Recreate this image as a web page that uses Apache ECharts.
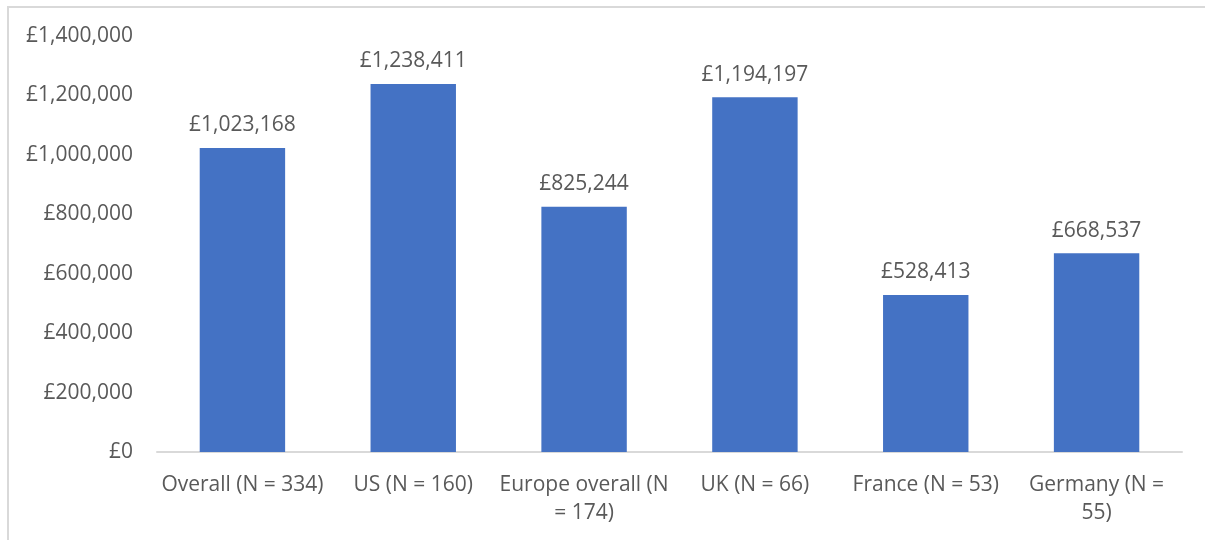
<!DOCTYPE html>
<html>
<head>
<meta charset="utf-8">
<script src="https://cdn.jsdelivr.net/npm/echarts@6/dist/echarts.min.js"></script>
<style>
  html, body { margin: 0; padding: 0; background: #fff; }
  #frame {
    position: absolute; left: 7px; top: 6px; width: 1198px; height: 534px;
    border-top: 2px solid #d9d9d9; border-left: 2px solid #d9d9d9;
    box-sizing: border-box;
  }
  #chart { position: absolute; left: 0; top: 0; width: 1205px; height: 540px; }
</style>
</head>
<body>
<div id="frame"></div>
<div id="chart"></div>
<script>
// 分类（轴上显示的文字）
const categories = [
  "Overall (N = 334)",
  "US (N = 160)",
  "Europe overall (N\n= 174)",
  "UK (N = 66)",
  "France (N = 53)",
  "Germany (N =\n55)"
];
// 平均值
const values = [1023168, 1238411, 825244, 1194197, 528413, 668537];

const yMin = 0;
const yMax = 1400000;
const yStep = 200000;

const textColor = "#595959";
const fontFamily = "'Open Sans', 'Noto Sans', sans-serif";

function pound(v) {
  return "£" + Number(v).toLocaleString("en-GB");
}

const chart = echarts.init(document.getElementById("chart"));
chart.setOption({
  animation: false,
  textStyle: { fontFamily: fontFamily, color: textColor },
  grid: { left: 157, right: 23, top: 36, bottom: 88, containLabel: false },
  xAxis: {
    type: "category",
    data: categories,
    axisLine: { lineStyle: { color: "#d9d9d9", width: 2 } },
    axisTick: { show: false },
    axisLabel: {
      interval: 0,
      color: textColor,
      fontSize: 21,
      fontFamily: fontFamily,
      margin: 19,
      lineHeight: 28
    }
  },
  yAxis: {
    type: "value",
    min: yMin,
    max: yMax,
    interval: yStep,
    axisLine: { show: false },
    axisTick: { show: false },
    splitLine: { show: false },
    axisLabel: {
      color: textColor,
      fontSize: 21,
      fontFamily: fontFamily,
      margin: 24,
      formatter: pound
    }
  },
  series: [
    {
      type: "bar",
      data: values,
      barWidth: "50%",
      itemStyle: { color: "#4472c4" },
      label: {
        show: true,
        position: "top",
        distance: 12,
        color: textColor,
        fontSize: 21,
        fontFamily: fontFamily,
        formatter: (p) => pound(p.value)
      }
    }
  ]
});
</script>
</body>
</html>
